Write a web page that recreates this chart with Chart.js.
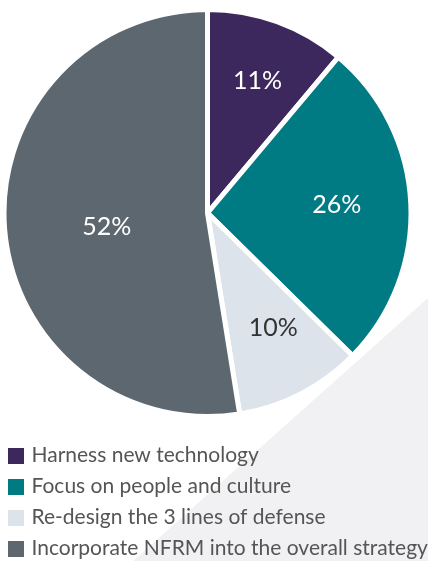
<!DOCTYPE html>
<html>
<head>
<meta charset="utf-8">
<script src="https://cdn.jsdelivr.net/npm/chart.js@4/dist/chart.umd.min.js"></script>
<style>
  html, body { margin: 0; padding: 0; background: #ffffff; }
  #wrap { position: relative; width: 428px; height: 561px; overflow: hidden; }
  #shade {
    position: absolute; left: 0; top: 0; width: 428px; height: 561px;
    background: #f1f1f3;
    clip-path: polygon(428px 298px, 428px 561px, 133px 561px);
  }
  canvas { position: absolute; left: 0; top: -9px; }
</style>
</head>
<body>
<div id="wrap">
  <div id="shade"></div>
  <canvas id="chart" width="428" height="570"></canvas>
</div>
<script>
// Priorities for non-financial risk management
const categories = [
  'Harness new technology',
  'Focus on people and culture',
  'Re-design the 3 lines of defense',
  'Incorporate NFRM into the overall strategy'
];
const shares = [11, 26, 10, 52];
const sliceColors = ['#3d285e', '#007a83', '#dce3ea', '#5c6770'];
const labelColors = ['#ffffff', '#ffffff', '#333333', '#ffffff'];

// Writes each share as a percentage inside its slice
const sliceLabels = {
  id: 'sliceLabels',
  afterDatasetsDraw(chart, args, opts) {
    const ctx = chart.ctx;
    const meta = chart.getDatasetMeta(0);
    ctx.save();
    ctx.font = opts.font;
    ctx.textAlign = 'center';
    ctx.textBaseline = 'middle';
    meta.data.forEach((arc, i) => {
      const p = arc.getProps(['x', 'y', 'startAngle', 'endAngle', 'outerRadius'], true);
      const mid = (p.startAngle + p.endAngle) / 2 + opts.turn[i] * Math.PI / 180;
      const r = p.outerRadius * opts.radii[i];
      ctx.fillStyle = labelColors[i];
      ctx.fillText(shares[i] + '%', p.x + Math.cos(mid) * r, p.y + Math.sin(mid) * r);
    });
    ctx.restore();
  }
};

// Lets the longest legend line run to the right edge of the canvas
const legendReach = {
  id: 'legendReach',
  afterLayout(chart) {
    if (chart.legend) chart.legend.right = chart.width;
  }
};

// Square legend swatches, drawn as small canvases so the text sits close to them
function swatch(color, size) {
  const c = document.createElement('canvas');
  c.width = size; c.height = size;
  const g = c.getContext('2d');
  g.fillStyle = color;
  g.fillRect(0, 0, size, size);
  return c;
}
const baseLabels = Chart.overrides.pie.plugins.legend.labels.generateLabels;

new Chart(document.getElementById('chart'), {
  type: 'pie',
  data: {
    labels: categories,
    datasets: [{
      data: shares,
      backgroundColor: sliceColors,
      borderColor: '#ffffff',
      borderWidth: 5,
      hoverOffset: 0
    }]
  },
  options: {
    responsive: false,
    animation: false,
    radius: 203.5,
    layout: { padding: { left: 1, right: 14, top: 0, bottom: -8 } },
    plugins: {
      tooltip: { enabled: false },
      legend: {
        position: 'bottom',
        align: 'start',
        labels: {
          usePointStyle: true,
          pointStyleWidth: 10,
          boxHeight: 16,
          padding: 10,
          color: '#555555',
          font: { family: 'Lato', size: 21, weight: '400' },
          generateLabels: (chart) => baseLabels(chart).map((item, i) => ({
            ...item, lineWidth: 0, pointStyle: swatch(sliceColors[i], 16)
          }))
        }
      },
      sliceLabels: {
        font: '400 25px Lato',
        radii: [0.694, 0.637, 0.652, 0.50],
        turn: [0.7, -0.8, -2.4, -3.4]
      }
    }
  },
  plugins: [sliceLabels, legendReach]
});
</script>
</body>
</html>
